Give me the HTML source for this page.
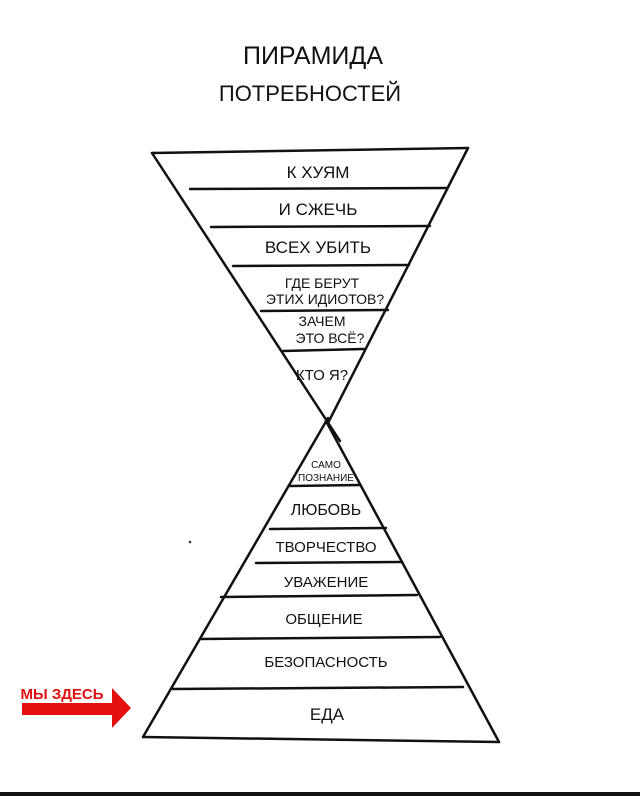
<!DOCTYPE html>
<html><head><meta charset="utf-8"><style>
html,body{margin:0;padding:0;background:#fff;}
svg{display:block;}
text{font-family:"Liberation Sans Narrow","Liberation Sans",sans-serif;fill:#111;text-anchor:middle;}
</style></head><body>
<svg width="640" height="796" viewBox="0 0 640 796" xmlns="http://www.w3.org/2000/svg">
<rect width="640" height="796" fill="#fff"/>
<text x="313" y="64" font-size="25">ПИРАМИДА</text>
<text x="310" y="101" font-size="22">ПОТРЕБНОСТЕЙ</text>
<g stroke="#111" stroke-width="2.5" fill="none" stroke-linecap="round">
<line x1="152" y1="153" x2="468" y2="148"/>
<line x1="152" y1="153" x2="340" y2="441"/>
<line x1="468" y1="148" x2="328" y2="423"/>
<line x1="190" y1="189" x2="446" y2="188"/>
<line x1="211" y1="227" x2="430" y2="226"/>
<line x1="233" y1="266" x2="409" y2="265"/>
<line x1="261" y1="311" x2="388" y2="310"/>
<line x1="283" y1="351" x2="364" y2="349"/>
<line x1="328" y1="418" x2="143" y2="737"/>
<line x1="326" y1="421" x2="499" y2="742"/>
<line x1="143" y1="737" x2="499" y2="742"/>
<line x1="290" y1="486" x2="360" y2="485"/>
<line x1="270" y1="529" x2="386" y2="528"/>
<line x1="256" y1="563" x2="402" y2="562"/>
<line x1="221" y1="597" x2="417" y2="595"/>
<line x1="200" y1="639" x2="440" y2="637"/>
<line x1="173" y1="689" x2="463" y2="687"/>
</g>
<circle cx="190" cy="542" r="1.3" fill="#333"/>
<text x="318" y="178" font-size="17">К ХУЯМ</text>
<text x="318" y="215" font-size="17">И СЖЕЧЬ</text>
<text x="318" y="253" font-size="17">ВСЕХ УБИТЬ</text>
<text x="322" y="288" font-size="14">ГДЕ БЕРУТ</text>
<text x="325" y="304" font-size="14">ЭТИХ ИДИОТОВ?</text>
<text x="322" y="326" font-size="14">ЗАЧЕМ</text>
<text x="330" y="343" font-size="14">ЭТО ВСЁ?</text>
<text x="322" y="380" font-size="15">КТО Я?</text>
<text x="326" y="468" font-size="10">САМО</text>
<text x="326" y="481" font-size="10">ПОЗНАНИЕ</text>
<text x="326" y="515" font-size="16">ЛЮБОВЬ</text>
<text x="326" y="552" font-size="15">ТВОРЧЕСТВО</text>
<text x="326" y="587" font-size="15">УВАЖЕНИЕ</text>
<text x="324" y="624" font-size="15">ОБЩЕНИЕ</text>
<text x="326" y="667" font-size="15">БЕЗОПАСНОСТЬ</text>
<text x="327" y="720" font-size="17">ЕДА</text>
<text x="62" y="699" font-size="15" font-weight="bold" style="fill:#e01010;font-family:'Liberation Sans',sans-serif">МЫ ЗДЕСЬ</text>
<polygon points="22,703 112,703 112,688 131,708 112,728 112,715 22,715" fill="#e51111"/>
<rect x="0" y="792" width="640" height="4" fill="#111"/>
</svg>
</body></html>
